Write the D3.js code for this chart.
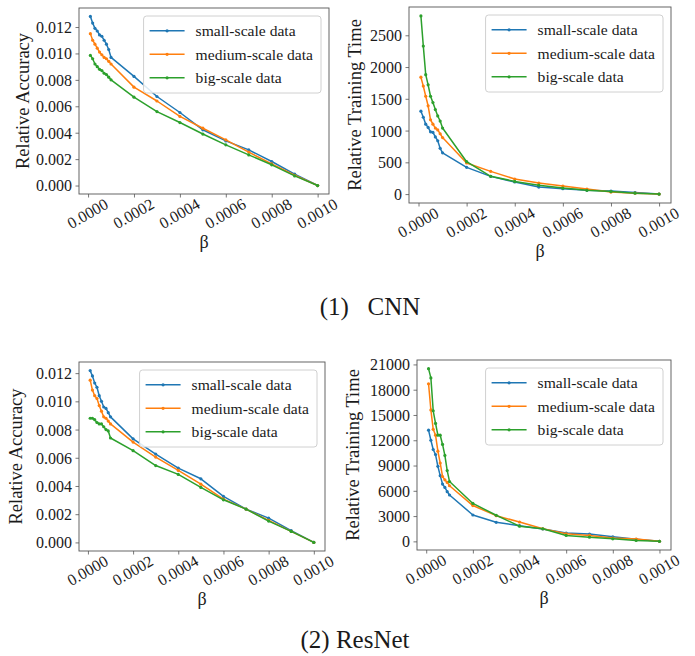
<!DOCTYPE html>
<html>
<head>
<meta charset="utf-8">
<script src="https://cdn.jsdelivr.net/npm/d3@7"></script>
<style>
  html, body { margin: 0; padding: 0; background: #fff; }
  svg { display: block; }
  svg text { font-family: "Liberation Serif", "Times New Roman", serif; }
</style>
</head>
<body>
<svg id="fig" width="695" height="656"></svg>
<script>
// β values shared by every panel
const beta = [0.00001, 0.00002, 0.00003, 0.00004, 0.00005, 0.00006, 0.00007, 0.00008, 0.00009, 0.0001,
              0.0002, 0.0003, 0.0004, 0.0005, 0.0006, 0.0007, 0.0008, 0.0009, 0.001];
const xTicks = [0.0000, 0.0002, 0.0004, 0.0006, 0.0008, 0.0010];
const seriesNames = ["small-scale data", "medium-scale data", "big-scale data"];

// (1) CNN – relative accuracy
const cnnAccSmall  = [0.0128, 0.0123, 0.0119, 0.0117, 0.0114, 0.0113, 0.0110, 0.0107, 0.0103, 0.0097, 0.00826, 0.00674, 0.00553, 0.00422, 0.00338, 0.0027, 0.00182, 0.00086, 0];
const cnnAccMedium = [0.0115, 0.0110, 0.0107, 0.0104, 0.0101, 0.0099, 0.0097, 0.0096, 0.0094, 0.0092, 0.00745, 0.0064, 0.00523, 0.00434, 0.00346, 0.00253, 0.00164, 0.00078, 0];
const cnnAccBig    = [0.00985, 0.0096, 0.0092, 0.0090, 0.0088, 0.0087, 0.0085, 0.0084, 0.0082, 0.0080, 0.00669, 0.0056, 0.00477, 0.0039, 0.00308, 0.00232, 0.00157, 0.00073, 0];
const accTicks = [0, 0.002, 0.004, 0.006, 0.008, 0.010, 0.012];

// (1) CNN – relative training time
const cnnTimeSmall  = [1305, 1210, 1100, 1050, 980, 970, 900, 840, 720, 650, 421, 279, 190, 110, 84, 60, 47, 25, 0];
const cnnTimeMedium = [1840, 1700, 1540, 1390, 1170, 1100, 1040, 1010, 950, 890, 490, 358, 237, 174, 126, 80, 32, 15, 0];
const cnnTimeBig    = [2805, 2330, 1880, 1720, 1540, 1440, 1330, 1230, 1150, 1040, 510, 280, 200, 140, 95, 60, 40, 15, 0];
const cnnTimeTicks = [0, 500, 1000, 1500, 2000, 2500];

// (2) ResNet – relative accuracy
const resAccSmall  = [0.01218, 0.0118, 0.0113, 0.0110, 0.0104, 0.0100, 0.0096, 0.0095, 0.0092, 0.0089, 0.00734, 0.00626, 0.00527, 0.00451, 0.00326, 0.00236, 0.00172, 0.00083, 0];
const resAccMedium = [0.0115, 0.0108, 0.0104, 0.0102, 0.0097, 0.0093, 0.0089, 0.0088, 0.0086, 0.0084, 0.00711, 0.00605, 0.0051, 0.00413, 0.00307, 0.00236, 0.00156, 0.00078, 0];
const resAccBig    = [0.0088, 0.0088, 0.0087, 0.0085, 0.0084, 0.0084, 0.0082, 0.0080, 0.0079, 0.0074, 0.0065, 0.00545, 0.00482, 0.0039, 0.00302, 0.00236, 0.00151, 0.00078, 0];

// (2) ResNet – relative training time
const resTimeSmall  = [13200, 12000, 10900, 10300, 8900, 7800, 6800, 6400, 5900, 5500, 3130, 2260, 1860, 1470, 990, 870, 550, 250, 0];
const resTimeMedium = [18700, 15600, 13300, 12600, 10700, 9300, 7700, 7300, 7000, 6600, 4250, 3050, 2300, 1500, 900, 700, 400, 280, 0];
const resTimeBig    = [20500, 19400, 15500, 14000, 12600, 12600, 11500, 10200, 8400, 7100, 4500, 3100, 1800, 1500, 700, 500, 300, 100, 0];
const resTimeTicks = [0, 3000, 6000, 9000, 12000, 15000, 18000, 21000];

const colors = ["#1f77b4", "#ff7f0e", "#2ca02c"];
const FONT = "Liberation Serif, Times New Roman, serif";

// Panel frames (plot-area rectangles) and their content
const panels = [
  { box: {x: 79,  y: 8,   w: 250, h: 186}, ylabel: "Relative Accuracy",      series: [cnnAccSmall, cnnAccMedium, cnnAccBig], yTicks: accTicks, fmt: d3.format(".3f"), ylabX: 25 },
  { box: {x: 409, y: 7,   w: 262, h: 196}, ylabel: "Relative Training Time", series: [cnnTimeSmall, cnnTimeMedium, cnnTimeBig], yTicks: cnnTimeTicks, fmt: d3.format("d"), ylabX: 357 },
  { box: {x: 79,  y: 362, w: 246, h: 189}, ylabel: "Relative Accuracy",      series: [resAccSmall, resAccMedium, resAccBig], yTicks: accTicks, fmt: d3.format(".3f"), ylabX: 18 },
  { box: {x: 417, y: 360, w: 254, h: 190}, ylabel: "Relative Training Time", series: [resTimeSmall, resTimeMedium, resTimeBig], yTicks: resTimeTicks, fmt: d3.format("d"), ylabX: 355 }
];

const svg = d3.select("#fig");

// Extent padded by 5% on both sides
function padded(lo, hi) {
  const m = (hi - lo) * 0.05;
  return [lo - m, hi + m];
}

panels.forEach(p => {
  const {x, y, w, h} = p.box;
  const g = svg.append("g").attr("transform", `translate(${x},${y})`);

  const xs = d3.scaleLinear().domain(padded(d3.min(beta), d3.max(beta))).range([0, w]);
  const all = p.series.flat();
  const ys = d3.scaleLinear().domain(padded(d3.min(all), d3.max(all))).range([h, 0]);

  // x axis with rotated tick labels
  const xAxis = g.append("g").attr("transform", `translate(0,${h})`)
    .call(d3.axisBottom(xs).tickValues(xTicks).tickSize(3.5).tickSizeOuter(0).tickFormat(d3.format(".4f")));
  xAxis.attr("font-family", FONT);
  xAxis.select(".domain").remove();
  xAxis.selectAll(".tick line").attr("stroke", "#555").attr("stroke-width", 0.8);
  xAxis.selectAll(".tick text")
    .attr("y", 0).attr("dy", 0)
    .attr("transform", "translate(0,21) rotate(-30)")
    .attr("text-anchor", "middle")
    .attr("dominant-baseline", "middle")
    .attr("fill", "#1a1a1a")
    .attr("font-family", FONT)
    .attr("font-size", 16);

  // y axis
  const yAxis = g.append("g")
    .call(d3.axisLeft(ys).tickValues(p.yTicks).tickSize(3.5).tickSizeOuter(0).tickFormat(p.fmt));
  yAxis.attr("font-family", FONT);
  yAxis.select(".domain").remove();
  yAxis.selectAll(".tick line").attr("stroke", "#555").attr("stroke-width", 0.8);
  yAxis.selectAll(".tick text")
    .attr("x", -7).attr("dy", "0.34em")
    .attr("fill", "#1a1a1a")
    .attr("font-family", FONT)
    .attr("font-size", 16);

  // series lines with small point markers
  p.series.forEach((vals, i) => {
    const pts = vals.map((v, k) => [beta[k], v]);
    g.append("path")
      .datum(pts)
      .attr("fill", "none")
      .attr("stroke", colors[i])
      .attr("stroke-width", 1.5)
      .attr("stroke-linejoin", "round")
      .attr("d", d3.line().x(d => xs(d[0])).y(d => ys(d[1])));
    g.append("g").selectAll("circle").data(pts).join("circle")
      .attr("cx", d => xs(d[0])).attr("cy", d => ys(d[1]))
      .attr("r", 1.6).attr("fill", colors[i]);
  });

  // frame
  g.append("rect").attr("width", w).attr("height", h)
    .attr("fill", "none").attr("stroke", "#555").attr("stroke-width", 0.9);

  // legend, upper right
  const lg = g.append("g");
  const rowH = 23.5;
  const items = lg.selectAll("g.item").data(seriesNames).join("g")
    .attr("class", "item")
    .attr("transform", (d, i) => `translate(0,${i * rowH})`);
  items.append("line").attr("x1", 0).attr("x2", 35).attr("y1", 0).attr("y2", 0)
    .attr("stroke", (d, i) => colors[i]).attr("stroke-width", 1.5);
  items.append("circle").attr("cx", 17.5).attr("cy", 0).attr("r", 1.6)
    .attr("fill", (d, i) => colors[i]);
  items.append("text").attr("x", 46).attr("y", 0).attr("dy", "0.33em")
    .attr("fill", "#1a1a1a")
    .attr("font-family", FONT)
    .attr("font-size", 15.6)
    .text(d => d);
  const bb = lg.node().getBBox();
  const padX = 6, padY = 6;
  const lw = bb.width + 2 * padX + 2, lh = bb.height + 2 * padY + 1;
  const lx = w - 8 - lw, ly = 8;
  lg.attr("transform", `translate(${lx + padX},${ly + padY - bb.y})`);
  g.insert("rect", () => lg.node())
    .attr("x", lx).attr("y", ly).attr("width", lw).attr("height", lh)
    .attr("rx", 3).attr("fill", "#fff").attr("fill-opacity", 0.85)
    .attr("stroke", "#d0d0d0").attr("stroke-width", 1);

  // axis titles
  g.append("text")
    .attr("x", w / 2).attr("y", h + 54)
    .attr("text-anchor", "middle")
    .attr("fill", "#1a1a1a")
    .attr("font-family", FONT)
    .attr("font-size", 18)
    .text("β");
  svg.append("text")
    .attr("transform", `translate(${p.ylabX},${y + h / 2}) rotate(-90)`)
    .attr("text-anchor", "middle")
    .attr("dominant-baseline", "middle")
    .attr("fill", "#1a1a1a")
    .attr("font-family", FONT)
    .attr("font-size", 18.5)
    .text(p.ylabel);
});

// captions
svg.append("text")
  .attr("x", 370).attr("y", 315)
  .attr("text-anchor", "middle")
  .attr("fill", "#1a1a1a")
  .attr("font-family", FONT)
  .attr("font-size", 25)
  .style("white-space", "pre")
  .text("(1)   CNN");
svg.append("text")
  .attr("x", 355).attr("y", 648)
  .attr("text-anchor", "middle")
  .attr("fill", "#1a1a1a")
  .attr("font-family", FONT)
  .attr("font-size", 25)
  .text("(2) ResNet");
</script>
</body>
</html>
